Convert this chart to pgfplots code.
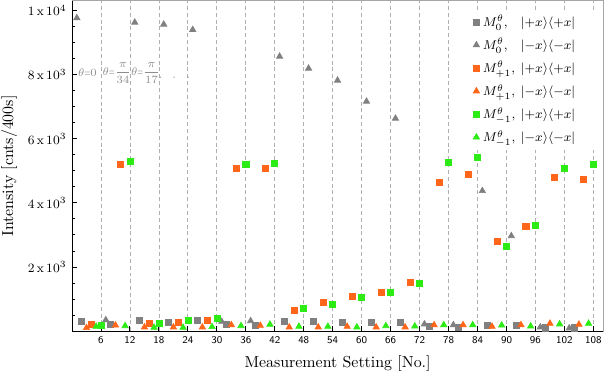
\documentclass[border=0pt]{standalone}
\usepackage{pgfplots}
\usepackage{graphicx}
\pgfplotsset{compat=1.18}
\definecolor{cgray}{RGB}{128,128,128}
\definecolor{corange}{RGB}{255,102,25}
\definecolor{cgreen}{RGB}{45,235,20}
\definecolor{cgrid}{RGB}{175,175,175}
\definecolor{ctext}{RGB}{140,140,140}
\newcommand{\lent}[2]{\makebox[24pt][l]{$M^{\theta}_{#1}$,}$|{#2x}\rangle\langle{#2x}|$}
\newcommand{\narroweq}{\mathord{\scalebox{0.6}[1]{$=$}}}
\begin{document}
\begin{tikzpicture}
\begin{axis}[
  scale only axis, width=334pt, height=207.8pt,
  xmin=0, xmax=110, ymin=0, ymax=10300,
  xtick={6,12,...,108}, xtick pos=left, ytick pos=left,
  ytick={2000,4000,6000,8000,10000},
  yticklabels={$2\,\mathrm{x}\,10^{3}$,$4\,\mathrm{x}\,10^{3}$,$6\,\mathrm{x}\,10^{3}$,$8\,\mathrm{x}\,10^{3}$,$1\,\mathrm{x}\,10^{4}$},
  minor ytick={500,1000,...,10000},
  tick align=inside,
  major tick length=3pt, minor tick length=2pt,
  tick style={black, line width=0.6pt},
  xmajorgrids,
  major grid style={cgrid, dash pattern=on 2.5pt off 1.8pt, line width=0.5pt},
  axis line style={draw=gray!70, line width=0.5pt},
  /pgf/number format/assume math mode=true,
  xticklabel style={font=\fontsize{6.5}{7}\sffamily},
  yticklabel style={font=\footnotesize},
  xlabel={Measurement Setting [No.]},
  ylabel={Intensity [cnts/400s]},
  every axis x label/.style={at={(axis description cs:0.5,0)}, anchor=base, yshift=-23pt},
  every axis y label/.style={at={(axis description cs:0,0.5)}, xshift=-39.6pt, rotate=90, anchor=center},
  legend style={at={(rel axis cs:0.99,0.974)}, anchor=north east, draw=none, fill=white,
    font=\footnotesize, inner xsep=12pt, inner ysep=1.5pt, row sep=2pt},
  legend cell align=left,
  only marks,
]
\coordinate (ll) at (rel axis cs:0,0);
\coordinate (ur) at (rel axis cs:1,1);
% gray squares
\addplot[mark=square*, mark size=1.9pt, color=cgray] coordinates {
(2,310)(8,210)(14,330)(20,290)(26,330)(32,220)(38,195)(44,320)(50,320)(56,280)(62,280)(68,280)(74,155)(80,125)(86,175)(92,175)(98,105)(104,105)};
\addlegendentry{\lent{0}{+}}
% gray triangles
\addplot[mark=triangle*, mark size=2.3pt, color=cgray] coordinates {
(1,9766)(7,350)(13,9626)(19,9564)(25,9398)(31,300)(37,320)(43,8566)(49,8192)(55,7818)(61,7163)(67,6633)(73,220)(79,195)(85,4375)(91,2970)(97,125)(103,95)};
\addlegendentry{\lent{0}{-}}
% orange squares
\addplot[mark=square*, mark size=1.9pt, color=corange] coordinates {
(4,220)(10,5190)(16,240)(22,280)(28,340)(34,5075)(40,5075)(46,648)(52,888)(58,1085)(64,1219)(70,1521)(76,4629)(82,4878)(88,2809)(94,3276)(100,4794)(106,4732)};
\addlegendentry{\lent{+1}{+}}
% orange triangles
\addplot[mark=triangle*, mark size=2.3pt, color=corange] coordinates {
(3,105)(9,185)(15,125)(21,125)(27,125)(33,195)(39,175)(45,125)(51,125)(57,145)(63,125)(69,125)(75,195)(81,195)(87,145)(93,195)(99,240)(105,210)};
\addlegendentry{\lent{+1}{-}}
% green squares
\addplot[mark=square*, mark size=1.9pt, color=cgreen] coordinates {
(6,185)(12,5302)(18,252)(24,337)(30,408)(36,5200)(42,5231)(48,726)(54,835)(60,1044)(66,1200)(72,1490)(78,5262)(84,5427)(90,2653)(96,3289)(102,5065)(108,5209)};
\addlegendentry{\lent{-1}{+}}
% green triangles
\addplot[mark=triangle*, mark size=2.3pt, color=cgreen] coordinates {
(5,145)(11,165)(17,115)(23,115)(29,135)(35,165)(41,210)(47,145)(53,145)(59,125)(65,165)(71,155)(77,195)(83,195)(89,185)(95,155)(101,220)(107,240)};
\addlegendentry{\lent{-1}{-}}
\draw[black, line width=0.8pt] (rel axis cs:0,1) -- (rel axis cs:0,0) -- (rel axis cs:1,0);
\begin{scope}[every node/.style={text=ctext, font=\fontsize{7}{8}\selectfont, inner sep=0pt}]
\node at (axis cs:3.2,8045) {$\theta\narroweq0$};
\node at (axis cs:9.3,8045) {$\theta\narroweq\displaystyle\frac{\pi}{34}$};
\node at (axis cs:15.2,8045) {$\theta\narroweq\displaystyle\frac{\pi}{17}$};
\node at (axis cs:21.2,7900) {$\cdot\;\;\cdot\;\;\cdot$};
\end{scope}
\end{axis}
\pgfresetboundingbox
\path ([xshift=-45.3pt,yshift=-25.3pt]ll) rectangle ([xshift=0.6pt,yshift=0.5pt]ur);
\end{tikzpicture}
\end{document}
